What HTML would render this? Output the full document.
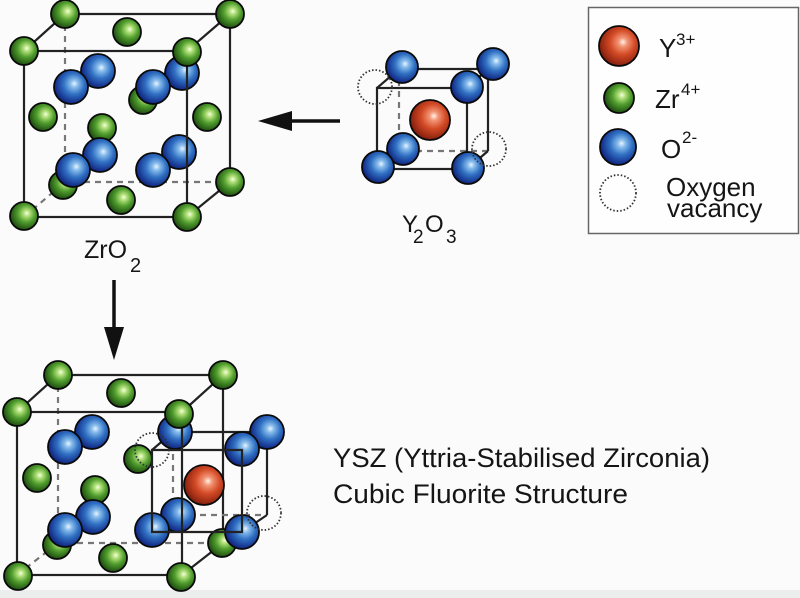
<!DOCTYPE html>
<html><head><meta charset="utf-8"><style>
html,body{margin:0;padding:0;background:#fbfbfb;}
svg{display:block;}
text{font-family:"Liberation Sans",sans-serif;fill:#151515;}
</style></head><body>
<svg width="800" height="598" viewBox="0 0 800 598" xmlns="http://www.w3.org/2000/svg">
<defs>
<radialGradient id="g" cx="58%" cy="42%" r="62%" fx="60%" fy="40%">
<stop offset="0" stop-color="#f6ffe6"/><stop offset="0.18" stop-color="#b2e07a"/><stop offset="0.5" stop-color="#519e2e"/><stop offset="0.85" stop-color="#285e16"/><stop offset="1" stop-color="#1a4510"/>
</radialGradient>
<radialGradient id="b" cx="58%" cy="42%" r="62%" fx="60%" fy="40%">
<stop offset="0" stop-color="#eaf4ff"/><stop offset="0.18" stop-color="#86bbec"/><stop offset="0.5" stop-color="#3070c2"/><stop offset="0.85" stop-color="#163490"/><stop offset="1" stop-color="#0e2070"/>
</radialGradient>
<radialGradient id="r" cx="58%" cy="42%" r="62%" fx="60%" fy="40%">
<stop offset="0" stop-color="#fff3ec"/><stop offset="0.18" stop-color="#f29474"/><stop offset="0.5" stop-color="#d34a26"/><stop offset="0.85" stop-color="#962812"/><stop offset="1" stop-color="#701a08"/>
</radialGradient>
</defs>
<rect x="0" y="590" width="800" height="8" fill="#eceeee"/>

<!-- ===== ZrO2 cube ===== -->
<g stroke="#222" stroke-width="2.2" fill="none">
<path d="M65 14V182H230M24 217L65 182" stroke="#777" stroke-dasharray="6 5"/>
<path d="M65 14H230V182M24 51L65 14M187 51L230 14M187 217L230 182"/>
</g>
<g stroke="#0a0a0a" stroke-width="1.8">
<circle cx="63" cy="185" r="14" fill="url(#g)"/>
<circle cx="143" cy="100" r="14" fill="url(#g)"/>
<circle cx="127" cy="32" r="14" fill="url(#g)"/>
<circle cx="43" cy="117" r="14" fill="url(#g)"/>
<circle cx="207" cy="117" r="14" fill="url(#g)"/>
<circle cx="121" cy="200" r="14" fill="url(#g)"/>
<circle cx="98" cy="71" r="17" fill="url(#b)"/>
<circle cx="71" cy="87" r="17" fill="url(#b)"/>
<circle cx="182" cy="73" r="17" fill="url(#b)"/>
<circle cx="153" cy="87" r="17" fill="url(#b)"/>
<circle cx="102" cy="128" r="14" fill="url(#g)"/>
<circle cx="100" cy="155" r="17" fill="url(#b)"/>
<circle cx="73" cy="170" r="17" fill="url(#b)"/>
<circle cx="179" cy="152" r="17" fill="url(#b)"/>
<circle cx="153" cy="170" r="17" fill="url(#b)"/>
</g>
<rect x="24" y="51" width="163" height="166" stroke="#222" stroke-width="2.2" fill="none"/>
<g stroke="#0a0a0a" stroke-width="1.8" fill="url(#g)">
<circle cx="65" cy="14" r="14"/>
<circle cx="230" cy="14" r="14"/>
<circle cx="230" cy="182" r="14"/>
<circle cx="24" cy="51" r="14"/>
<circle cx="187" cy="52" r="14"/>
<circle cx="24" cy="216" r="14"/>
<circle cx="187" cy="217" r="14"/>
</g>
<text x="84" y="258" font-size="25">ZrO</text>
<text x="130" y="272" font-size="20">2</text>

<!-- left arrow -->
<line x1="340" y1="121" x2="285" y2="121" stroke="#111" stroke-width="3.5"/>
<polygon points="258,121 292,111 292,131" fill="#111"/>

<!-- ===== Y2O3 cube ===== -->
<g stroke="#222" stroke-width="2.2" fill="none">
<path d="M399 69V151H488" stroke="#777" stroke-dasharray="6 5"/>
<path d="M399 69H488V151M377 88L399 69M467 88L488 69M467 169L488 151"/>
</g>
<g stroke="#0a0a0a" stroke-width="1.8">
<circle cx="402" cy="67" r="16" fill="url(#b)"/>
<circle cx="493" cy="64" r="16" fill="url(#b)"/>
<circle cx="403" cy="149" r="16" fill="url(#b)"/>
<circle cx="430" cy="120" r="20" fill="url(#r)"/>
</g>
<rect x="377" y="88" width="90" height="81" stroke="#222" stroke-width="2.2" fill="none"/>
<g stroke="#0a0a0a" stroke-width="1.8">
<circle cx="467" cy="87" r="16" fill="url(#b)"/>
<circle cx="378" cy="167" r="16" fill="url(#b)"/>
<circle cx="468" cy="168" r="16" fill="url(#b)"/>
</g>
<g stroke="#333" stroke-width="1.8" stroke-dasharray="1.5 2" fill="none">
<circle cx="375" cy="87" r="17"/>
<circle cx="489" cy="149" r="17"/>
</g>
<text x="402" y="232" font-size="24">Y</text>
<text x="413" y="243" font-size="19">2</text>
<text x="425" y="232" font-size="24">O</text>
<text x="446" y="243" font-size="19">3</text>

<!-- ===== Legend ===== -->
<rect x="588.5" y="7.5" width="210" height="226" fill="#fefefe" stroke="#666" stroke-width="1.5"/>
<g stroke="#0a0a0a" stroke-width="1.8">
<circle cx="619" cy="46" r="20" fill="url(#r)"/>
<circle cx="619" cy="98" r="15" fill="url(#g)"/>
<circle cx="618" cy="147" r="18" fill="url(#b)"/>
</g>
<circle cx="618" cy="193" r="18" stroke="#333" stroke-width="1.8" stroke-dasharray="1.5 2" fill="none"/>
<text x="659" y="57" font-size="26">Y</text>
<text x="676" y="45" font-size="17">3+</text>
<text x="655" y="108" font-size="26">Zr</text>
<text x="681" y="95" font-size="17">4+</text>
<text x="661" y="158" font-size="26">O</text>
<text x="682" y="143" font-size="17">2-</text>
<text x="666" y="196" font-size="26">Oxygen</text>
<text x="667" y="217" font-size="26">vacancy</text>

<!-- down arrow -->
<line x1="114" y1="280" x2="114" y2="335" stroke="#111" stroke-width="3.5"/>
<polygon points="114,360 104,327 124,327" fill="#111"/>

<!-- ===== YSZ cube ===== -->
<g stroke="#222" stroke-width="2.2" fill="none">
<path d="M58 375V543H223M17 575L58 543" stroke="#777" stroke-dasharray="6 5"/>
<path d="M58 375H223V543M17 412L58 375M182 412L223 375M182 575L223 543"/>
<path d="M173 432V515H267" stroke="#777" stroke-dasharray="6 5"/>
<path d="M173 432H267V515M152 450L173 432M242 450L267 432M242 532L267 515"/>
</g>
<g stroke="#0a0a0a" stroke-width="1.8">
<circle cx="57" cy="545" r="14" fill="url(#g)"/>
<circle cx="222" cy="543" r="14" fill="url(#g)"/>
<circle cx="121" cy="393" r="14" fill="url(#g)"/>
<circle cx="37" cy="478" r="14" fill="url(#g)"/>
<circle cx="113" cy="558" r="14" fill="url(#g)"/>
<circle cx="92" cy="432" r="17" fill="url(#b)"/>
<circle cx="65" cy="447" r="17" fill="url(#b)"/>
<circle cx="175" cy="432" r="17" fill="url(#b)"/>
<circle cx="267" cy="432" r="17" fill="url(#b)"/>
<circle cx="242" cy="449" r="17" fill="url(#b)"/>
<circle cx="138" cy="459" r="14" fill="url(#g)"/>
<circle cx="95" cy="490" r="14" fill="url(#g)"/>
<circle cx="93" cy="517" r="17" fill="url(#b)"/>
<circle cx="65" cy="530" r="17" fill="url(#b)"/>
<circle cx="204" cy="485" r="20" fill="url(#r)"/>
<circle cx="178" cy="515" r="17" fill="url(#b)"/>
<circle cx="152" cy="530" r="17" fill="url(#b)"/>
<circle cx="242" cy="532" r="17" fill="url(#b)"/>
</g>
<g stroke="#222" stroke-width="2.2" fill="none">
<rect x="17" y="412" width="165" height="163"/>
<path d="M152 450H242V532H152Z"/>
</g>
<g stroke="#333" stroke-width="1.8" stroke-dasharray="1.5 2" fill="none">
<circle cx="152" cy="450" r="17"/>
<circle cx="264" cy="513" r="17"/>
</g>
<g stroke="#0a0a0a" stroke-width="1.8" fill="url(#g)">
<circle cx="58" cy="375" r="14"/>
<circle cx="223" cy="375" r="14"/>
<circle cx="17" cy="412" r="14"/>
<circle cx="179" cy="414" r="14"/>
<circle cx="18" cy="576" r="14"/>
<circle cx="181" cy="577" r="14"/>
</g>

<text x="333" y="467" font-size="27" textLength="377" lengthAdjust="spacingAndGlyphs">YSZ (Yttria-Stabilised Zirconia)</text>
<text x="333" y="503" font-size="27" textLength="295" lengthAdjust="spacingAndGlyphs">Cubic Fluorite Structure</text>
</svg>
</body></html>
